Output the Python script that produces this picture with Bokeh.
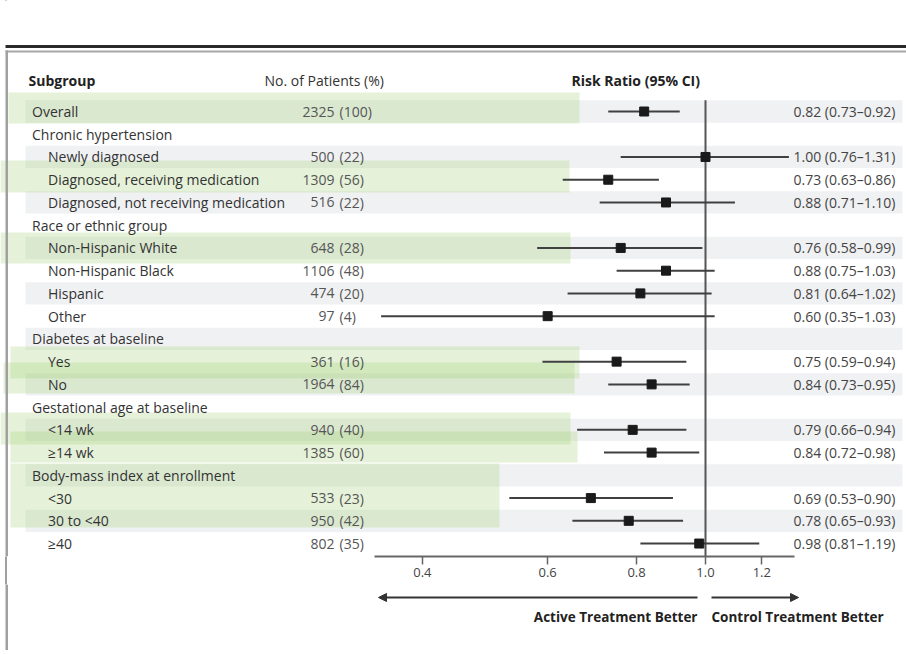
import math
from bokeh.plotting import figure
from bokeh.models import (Range1d, LogScale, LogAxis, FixedTicker, PrintfTickFormatter,
                          Arrow, NormalHead)
from bokeh.layouts import column
from bokeh.embed import file_html
from bokeh.resources import INLINE
from bokeh.core.properties import value

# ---------------- data ----------------
labels = ["Overall", "Chronic hypertension", "Newly diagnosed",
          "Diagnosed, receiving medication", "Diagnosed, not receiving medication",
          "Race or ethnic group", "Non-Hispanic White", "Non-Hispanic Black",
          "Hispanic", "Other", "Diabetes at baseline", "Yes", "No",
          "Gestational age at baseline", "<14 wk", "\u226514 wk",
          "Body-mass index at enrollment", "<30", "30 to <40", "\u226540"]
is_sub = [0, 0, 1, 1, 1, 0, 1, 1, 1, 1, 0, 1, 1, 0, 1, 1, 0, 1, 1, 1]
n_pat = [2325, None, 500, 1309, 516, None, 648, 1106, 474, 97, None, 361, 1964,
         None, 940, 1385, None, 533, 950, 802]
pct = [100, None, 22, 56, 22, None, 28, 48, 20, 4, None, 16, 84,
       None, 40, 60, None, 23, 42, 35]
rr = [0.82, None, 1.00, 0.73, 0.88, None, 0.76, 0.88, 0.81, 0.60, None, 0.75, 0.84,
      None, 0.79, 0.84, None, 0.69, 0.78, 0.98]
lo = [0.73, None, 0.76, 0.63, 0.71, None, 0.58, 0.75, 0.64, 0.35, None, 0.59, 0.73,
      None, 0.66, 0.72, None, 0.53, 0.65, 0.81]
hi = [0.92, None, 1.31, 0.86, 1.10, None, 0.99, 1.03, 1.02, 1.03, None, 0.94, 0.95,
      None, 0.94, 0.98, None, 0.90, 0.93, 1.19]
ticks = [0.4, 0.6, 0.8, 1.0, 1.2]
head_subgroup = "Subgroup"
head_patients = "No. of Patients (%)"
head_rr = "Risk Ratio (95% CI)"
left_note = "Active Treatment Better"
right_note = "Control Treatment Better"

# ---------------- layout constants (page px) ----------------
FONT = "Open Sans"
W = 906
FH = 556          # frame bottom = axis line
H2 = 66           # bottom strip height
ROW0 = 111.0
PITCH = 22.74
X1 = 705.0
K = 309.0
FRAME_GRAY = "#a0a0a0"


def row_of(cy):
    return (cy - ROW0) / PITCH


def rr_of(cx):
    return math.exp((cx - X1) / K)


y_top = row_of(0)
y_bot = row_of(FH)

p = figure(frame_width=W, frame_height=FH, x_range=Range1d(0, W),
           y_range=Range1d(y_bot, y_top), x_axis_type=None, y_axis_type=None,
           output_backend="svg", toolbar_location=None,
           min_border_left=0, min_border_right=0, min_border_top=0, min_border_bottom=28)
p.extra_x_ranges = {"rr": Range1d(rr_of(0), rr_of(W))}
p.extra_x_scales = {"rr": LogScale()}
p.outline_line_color = None
p.background_fill_color = "white"
p.border_fill_color = None

idx = list(range(len(labels)))

# alternating row bands
even = [i for i in idx if i % 2 == 0]
p.quad(left=25, right=902, top=[i - 0.49 for i in even], bottom=[i + 0.49 for i in even],
       fill_color="#f0f1f3", line_color=None)

# highlighter marks (page px: left, right, top, bottom)
HL = [(8, 579, 92, 123), (0, 569, 160, 192), (0, 570, 232, 263), (10, 579, 346, 378),
      (3, 574, 362, 393), (0, 570, 412, 444), (10, 577, 431, 462), (10, 499, 463, 527)]
p.quad(left=[h[0] for h in HL], right=[h[1] for h in HL],
       top=[row_of(h[2]) for h in HL], bottom=[row_of(h[3]) for h in HL],
       fill_color="#a0d278", fill_alpha=0.28, line_color=None)

# frame lines
p.segment(x0=[5], x1=[W], y0=[row_of(46)], y1=[row_of(46)], line_color="#2a2a2a", line_width=3)
p.segment(x0=[5], x1=[W], y0=[row_of(51)], y1=[row_of(51)], line_color="#a8a8a8", line_width=2)
p.segment(x0=[6.25], x1=[6.25], y0=[row_of(50)], y1=[y_bot], line_color=FRAME_GRAY,
          line_width=2.5)

# headers
hy = row_of(80)
p.text(x=[28], y=[hy], text=[head_subgroup], text_font=value(FONT), text_font_style="bold",
       text_font_size="14px", text_color="#222222", text_baseline="middle")
p.text(x=[264], y=[hy], text=[head_patients], text_font=value(FONT),
       text_font_size="14px", text_color="#333333", text_baseline="middle")
p.text(x=[571], y=[hy], text=[head_rr], text_font=value(FONT), text_font_style="bold",
       text_font_size="14px", text_color="#222222", text_baseline="middle")

# labels
p.text(x=[47.5 if s else 31.5 for s in is_sub], y=idx, text=labels, text_font=value(FONT),
       text_font_size="14px", text_color="#333333", text_baseline="middle")

rows = [i for i in idx if n_pat[i] is not None]
p.text(x=334, y=rows, text=[str(n_pat[i]) for i in rows], text_font=value(FONT),
       text_font_size="14px", text_color="#555555", text_baseline="middle", text_align="right")
p.text(x=339, y=rows, text=["(%d)" % pct[i] for i in rows], text_font=value(FONT),
       text_font_size="14px", text_color="#555555", text_baseline="middle", text_align="left")

ci_rows = [i for i in idx if rr[i] is not None]
p.text(x=793, y=ci_rows,
       text=["%.2f (%.2f\u2013%.2f)" % (rr[i], lo[i], hi[i]) for i in ci_rows],
       text_font=value(FONT), text_font_size="14px", text_color="#444444",
       text_baseline="middle", text_align="left")

# reference line
p.segment(x0=[1.0], x1=[1.0], y0=[-0.5], y1=[y_bot], x_range_name="rr",
          line_color="#555555", line_width=2)

# CIs and point estimates
p.segment(x0=[lo[i] for i in ci_rows], x1=[hi[i] for i in ci_rows], y0=ci_rows, y1=ci_rows,
          x_range_name="rr", line_color="#404040", line_width=2)
p.scatter(x=[rr[i] for i in ci_rows], y=ci_rows, marker="square", size=9,
          fill_color="#1a1a1a", line_color="#1a1a1a", x_range_name="rr")

ax = LogAxis(x_range_name="rr", ticker=FixedTicker(ticks=ticks, minor_ticks=[]),
             formatter=PrintfTickFormatter(format="%.1f"), bounds=(rr_of(374), rr_of(794)))
ax.axis_line_color = "#666666"
ax.axis_line_width = 2
ax.major_tick_line_color = "#666666"
ax.major_tick_line_width = 1.5
ax.major_tick_in = 0
ax.major_tick_out = 8
ax.minor_tick_in = 0
ax.minor_tick_out = 0
ax.major_label_text_font = FONT
ax.major_label_text_font_size = "13px"
ax.major_label_text_color = "#444444"
ax.major_label_standoff = 3
p.add_layout(ax, "below")

# bottom strip with arrows
p2 = figure(frame_width=W, frame_height=H2, x_range=p.x_range, y_range=Range1d(H2, 0),
            x_axis_type=None, y_axis_type=None, output_backend="svg", toolbar_location=None,
            min_border_left=0, min_border_right=0, min_border_top=0, min_border_bottom=0)
p2.extra_x_ranges = {"rr": p.extra_x_ranges["rr"]}
p2.extra_x_scales = {"rr": LogScale()}
p2.outline_line_color = None
p2.background_fill_color = "white"
p2.border_fill_color = "white"
p2.segment(x0=[6.25], x1=[6.25], y0=[0], y1=[H2], line_color=FRAME_GRAY, line_width=2.5)

p2.add_layout(Arrow(end=NormalHead(size=8, fill_color="#333333", line_color="#333333"),
                    x_start=rr_of(697), x_end=rr_of(378), y_start=13, y_end=13,
                    x_range_name="rr", line_color="#333333", line_width=2))
p2.add_layout(Arrow(end=NormalHead(size=8, fill_color="#333333", line_color="#333333"),
                    x_start=rr_of(711), x_end=rr_of(798), y_start=13, y_end=13,
                    x_range_name="rr", line_color="#333333", line_width=2))
p2.text(x=[rr_of(697)], y=[32], text=[left_note], x_range_name="rr", text_font=value(FONT),
        text_font_style="bold", text_font_size="13.5px", text_color="#222222",
        text_align="right", text_baseline="middle")
p2.text(x=[rr_of(711)], y=[32], text=[right_note], x_range_name="rr", text_font=value(FONT),
        text_font_style="bold", text_font_size="13.5px", text_color="#222222",
        text_align="left", text_baseline="middle")

# the frame's left rule continues through the axis strip (painted behind the figures)
layout = column(p, p2, styles={
    "background-color": "#ffffff",
    "background-image": "linear-gradient(to right, #ffffff 5px, %s 5px, %s 7.5px, #ffffff 7.5px)"
                        % (FRAME_GRAY, FRAME_GRAY)})
open("out.html", "w").write(file_html(layout, INLINE))
